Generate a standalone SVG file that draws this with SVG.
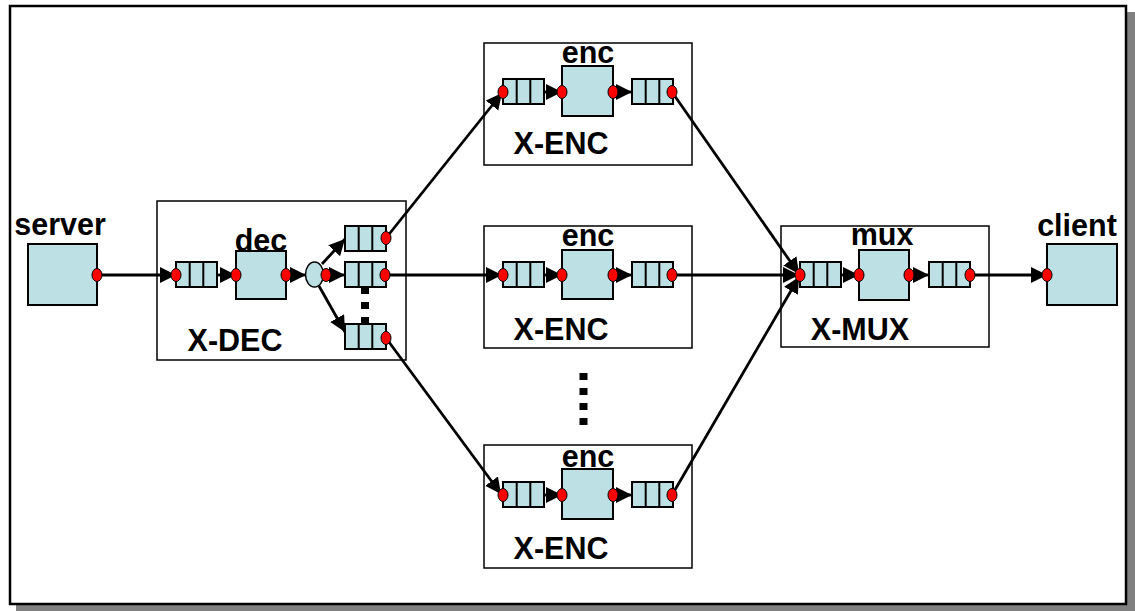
<svg xmlns="http://www.w3.org/2000/svg" xmlns:xlink="http://www.w3.org/1999/xlink" width="1135" height="611" viewBox="0 0 1135 611">
<style>
.q{fill:#bce0e3;stroke:#000;stroke-width:2}
.sq{fill:#bce0e3;stroke:#000;stroke-width:2}
.box{fill:none;stroke:#000;stroke-width:1.5}
.dot{fill:#f00;stroke:#000;stroke-width:1}
.c{stroke:#000;stroke-width:2.8;fill:none;marker-end:url(#ah)}
.t{font-family:"Liberation Sans",Arial,sans-serif;font-weight:bold;font-size:30.5px;text-anchor:middle;fill:#000}
.el{stroke:#000;stroke-width:8;stroke-dasharray:7 8}
</style>
<defs>
<marker id="ah" markerUnits="userSpaceOnUse" markerWidth="17" markerHeight="17" refX="16" refY="8" orient="auto">
<path d="M0,0 L16,8 L0,16 z" fill="#000"/>
</marker>
<g id="queue">
<rect class="q" x="0" y="0" width="41" height="25"/>
<line x1="13.7" y1="0" x2="13.7" y2="25" stroke="#000" stroke-width="2"/>
<line x1="27.3" y1="0" x2="27.3" y2="25" stroke="#000" stroke-width="2"/>
</g>
<ellipse id="rd" class="dot" cx="0" cy="0" rx="5" ry="6.5"/>
</defs>

<rect x="16" y="12" width="1119" height="599" fill="#808080"/>
<rect x="10" y="6" width="1116" height="598" fill="#fff" stroke="#000" stroke-width="2.5"/>

<g id="connectors">
<line class="c" x1="97" y1="275" x2="176" y2="275"/>
<line class="c" x1="217" y1="275" x2="236" y2="275"/>
<line class="c" x1="286" y1="275" x2="306" y2="275"/>
<line class="c" x1="322" y1="264" x2="345" y2="239"/>
<line class="c" x1="326" y1="275" x2="345" y2="275"/>
<line class="c" x1="319" y1="286" x2="345" y2="332"/>
<line class="c" x1="386" y1="238" x2="502" y2="93"/>
<line class="c" x1="385" y1="275" x2="502" y2="275"/>
<line class="c" x1="386" y1="338" x2="501" y2="494"/>
<line class="c" x1="544" y1="92" x2="562" y2="92"/>
<line class="c" x1="613" y1="92" x2="632" y2="92"/>
<line class="c" x1="544" y1="275" x2="562" y2="275"/>
<line class="c" x1="613" y1="275" x2="632" y2="275"/>
<line class="c" x1="544" y1="495" x2="562" y2="495"/>
<line class="c" x1="613" y1="495" x2="632" y2="495"/>
<line class="c" x1="672" y1="92" x2="799" y2="274"/>
<line class="c" x1="672" y1="275" x2="799" y2="275"/>
<line class="c" x1="672" y1="495" x2="799" y2="277"/>
<line class="c" x1="840" y1="275" x2="859" y2="275"/>
<line class="c" x1="909" y1="275" x2="929" y2="275"/>
<line class="c" x1="970" y1="275" x2="1047" y2="275"/>
</g>

<g id="server">
<rect class="sq" x="28" y="244" width="69" height="61"/>
<use xlink:href="#rd" x="97" y="275"/>
<text class="t" x="60" y="235">server</text>
</g>

<g id="x-dec">
<rect class="box" x="157" y="201" width="249" height="159"/>
<use xlink:href="#queue" x="176" y="262"/>
<use xlink:href="#rd" x="176" y="275"/>
<rect class="sq" x="236" y="251" width="50" height="48"/>
<use xlink:href="#rd" x="236" y="275"/>
<use xlink:href="#rd" x="286" y="275"/>
<text class="t" x="261" y="251">dec</text>
<ellipse cx="314.5" cy="274.5" rx="9" ry="12.5" fill="#bce0e3" stroke="#000" stroke-width="1.5"/>
<use xlink:href="#rd" x="326" y="275"/>
<line class="el" x1="365" y1="287" x2="365" y2="330"/>
<use xlink:href="#queue" x="345" y="226"/>
<use xlink:href="#rd" x="386" y="238"/>
<use xlink:href="#queue" x="345" y="262"/>
<use xlink:href="#rd" x="385" y="275"/>
<use xlink:href="#queue" x="345" y="324"/>
<use xlink:href="#rd" x="386" y="338"/>
<text class="t" x="235" y="351">X-DEC</text>
</g>

<g id="x-enc-1">
<rect class="box" x="484" y="43" width="208" height="122"/>
<use xlink:href="#queue" x="503" y="79"/>
<use xlink:href="#rd" x="503" y="92"/>
<rect class="sq" x="562" y="66" width="51" height="50"/>
<use xlink:href="#rd" x="562" y="92"/>
<use xlink:href="#rd" x="613" y="92"/>
<use xlink:href="#queue" x="632" y="79"/>
<use xlink:href="#rd" x="672" y="92"/>
<text class="t" x="588" y="63">enc</text>
<text class="t" x="561" y="154">X-ENC</text>
</g>

<g id="x-enc-2">
<rect class="box" x="484" y="226" width="208" height="122"/>
<use xlink:href="#queue" x="503" y="262"/>
<use xlink:href="#rd" x="503" y="275"/>
<rect class="sq" x="562" y="250" width="51" height="49"/>
<use xlink:href="#rd" x="562" y="275"/>
<use xlink:href="#rd" x="613" y="275"/>
<use xlink:href="#queue" x="632" y="262"/>
<use xlink:href="#rd" x="672" y="275"/>
<text class="t" x="588" y="246">enc</text>
<text class="t" x="561" y="340">X-ENC</text>
</g>

<line class="el" x1="583.5" y1="373" x2="583.5" y2="428"/>

<g id="x-enc-3">
<rect class="box" x="484" y="445" width="208" height="123"/>
<use xlink:href="#queue" x="503" y="482"/>
<use xlink:href="#rd" x="503" y="495"/>
<rect class="sq" x="562" y="469" width="51" height="50"/>
<use xlink:href="#rd" x="562" y="495"/>
<use xlink:href="#rd" x="613" y="495"/>
<use xlink:href="#queue" x="632" y="482"/>
<use xlink:href="#rd" x="672" y="495"/>
<text class="t" x="588" y="467">enc</text>
<text class="t" x="561" y="559">X-ENC</text>
</g>

<g id="x-mux">
<rect class="box" x="781" y="226" width="208" height="121"/>
<use xlink:href="#queue" x="800" y="262"/>
<use xlink:href="#rd" x="800" y="275"/>
<rect class="sq" x="859" y="250" width="50" height="50"/>
<use xlink:href="#rd" x="859" y="275"/>
<use xlink:href="#rd" x="909" y="275"/>
<use xlink:href="#queue" x="929" y="262"/>
<use xlink:href="#rd" x="970" y="275"/>
<text class="t" x="882" y="245">mux</text>
<text class="t" x="860" y="340">X-MUX</text>
</g>

<g id="client">
<rect class="sq" x="1047" y="244" width="70" height="61"/>
<use xlink:href="#rd" x="1047" y="275"/>
<text class="t" x="1077" y="236">client</text>
</g>
</svg>
